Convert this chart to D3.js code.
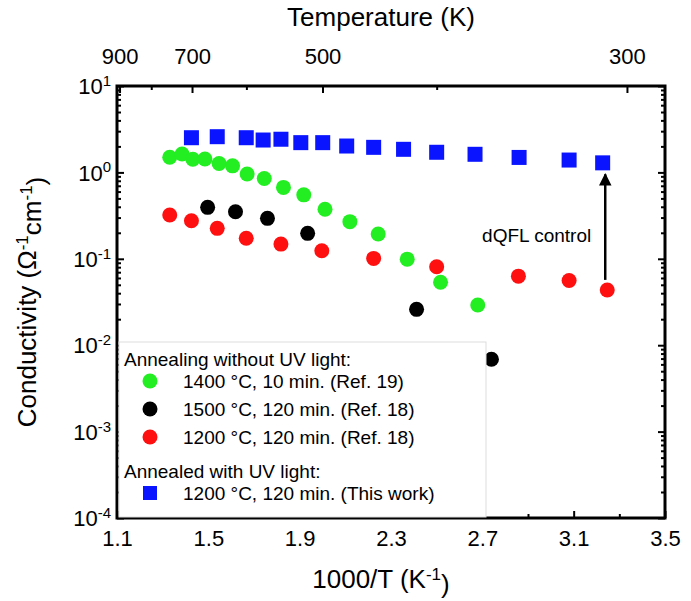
<!DOCTYPE html>
<html>
<head>
<meta charset="utf-8">
<script src="https://cdn.jsdelivr.net/npm/d3@7"></script>
<style>
  body { margin: 0; background: #fff; }
  text { font-family: Arial, "Liberation Sans", sans-serif; }
</style>
</head>
<body>
<div class="canva"></div>
<script>
// valores: x = 1000/T, y = conductividad
const greenX = [1.331, 1.385, 1.432, 1.485, 1.547, 1.606, 1.670, 1.745, 1.829, 1.918, 2.011, 2.120, 2.244, 2.371, 2.517, 2.680];
const greenY = [1.50, 1.63, 1.42, 1.43, 1.27, 1.19, 0.96, 0.85, 0.67, 0.55, 0.374, 0.269, 0.194, 0.099, 0.0535, 0.0292];
const blackX = [1.497, 1.619, 1.759, 1.935, 2.412, 2.740];
const blackY = [0.394, 0.351, 0.294, 0.197, 0.026, 0.00687];
const redX = [1.331, 1.426, 1.539, 1.666, 1.818, 1.997, 2.224, 2.500, 2.858, 3.080, 3.247];
const redY = [0.321, 0.276, 0.225, 0.173, 0.148, 0.124, 0.101, 0.081, 0.063, 0.056, 0.0436];
const blueX = [1.426, 1.539, 1.666, 1.740, 1.818, 1.905, 2.001, 2.106, 2.224, 2.355, 2.500, 2.668, 2.861, 3.080, 3.227];
const blueY = [2.52, 2.59, 2.52, 2.37, 2.42, 2.21, 2.21, 2.02, 1.95, 1.85, 1.71, 1.62, 1.49, 1.39, 1.29];
const xTicks = [1.1, 1.5, 1.9, 2.3, 2.7, 3.1, 3.5];
const tempTicks = [900, 700, 500, 300];
const tempMinor = [800, 600, 400];
const yExps = [1, 0, -1, -2, -3, -4];
const legendRows = [
  { label: "1400 °C, 10 min. (Ref. 19)", color: "#22ee22", shape: "circle" },
  { label: "1500 °C, 120 min. (Ref. 18)", color: "#000000", shape: "circle" },
  { label: "1200 °C, 120 min. (Ref. 18)", color: "#ff1010", shape: "circle" },
  { label: "1200 °C, 120 min. (This work)", color: "#0a14ff", shape: "square" }
];

const W = 691, H = 601;
const L = 117, R = 665, T = 86, B = 518;

const svg = d3.select(".canva").append("svg").attr("width", W).attr("height", H);

const x = d3.scaleLinear().domain([1.1, 3.5]).range([L, R]);
const y = d3.scaleLog().domain([1e-4, 10]).range([B, T]);

// minor log ticks
const minorY = [];
for (let e = -4; e < 1; e++) for (let m = 2; m <= 9; m++) minorY.push(m * Math.pow(10, e));
const minorX = d3.range(1.3, 3.5, 0.4);

// ejes con ticks hacia adentro
const g = svg.append("g");
g.append("g").attr("transform", `translate(0,${B})`)
  .call(d3.axisBottom(x).tickValues(xTicks).tickSizeInner(-7).tickSizeOuter(0).tickPadding(12).tickFormat(d3.format(".1f")));
g.append("g").attr("transform", `translate(0,${B})`)
  .call(d3.axisBottom(x).tickValues(minorX).tickSizeInner(-4).tickSizeOuter(0).tickFormat(""));
g.append("g").attr("transform", `translate(0,${T})`)
  .call(d3.axisTop(x).tickValues(tempTicks.map(t => 1000 / t)).tickSizeInner(-7).tickSizeOuter(0).tickPadding(22)
    .tickFormat((d, i) => tempTicks[i]));
g.append("g").attr("transform", `translate(0,${T})`)
  .call(d3.axisTop(x).tickValues(tempMinor.map(t => 1000 / t)).tickSizeInner(-4).tickSizeOuter(0).tickFormat(""));
const yl = g.append("g").attr("transform", `translate(${L},0)`)
  .call(d3.axisLeft(y).tickValues(yExps.map(e => Math.pow(10, e))).tickSizeInner(-7).tickSizeOuter(0).tickPadding(10).tickFormat(""));
yl.selectAll(".tick").each(function(d) {
  const t = d3.select(this).append("text").attr("x", -6).attr("dy", "0.35em")
    .attr("text-anchor", "end").attr("fill", "#000").attr("font-size", 22);
  t.append("tspan").text("10");
  t.append("tspan").attr("dy", "-0.55em").attr("font-size", 15).text(Math.round(Math.log10(d)));
});
g.append("g").attr("transform", `translate(${L},0)`)
  .call(d3.axisLeft(y).tickValues(minorY).tickSizeInner(-4).tickSizeOuter(0).tickFormat(""));
g.append("g").attr("transform", `translate(${R},0)`)
  .call(d3.axisRight(y).tickValues(yExps.map(e => Math.pow(10, e))).tickSizeInner(-7).tickSizeOuter(0).tickFormat(""));
g.append("g").attr("transform", `translate(${R},0)`)
  .call(d3.axisRight(y).tickValues(minorY).tickSizeInner(-4).tickSizeOuter(0).tickFormat(""));
g.selectAll(".tick text").attr("font-size", 22).attr("font-family", "Arial, 'Liberation Sans', sans-serif");
g.selectAll("path.domain").remove();
g.selectAll(".tick line").attr("stroke-width", 2);

svg.append("rect").attr("x", L).attr("y", T).attr("width", R - L).attr("height", B - T)
  .attr("fill", "none").attr("stroke", "#000").attr("stroke-width", 3);

// titulos
svg.append("text").attr("x", (L + R) / 2 - 10).attr("y", 26).attr("text-anchor", "middle")
  .attr("font-size", 26).text("Temperature (K)");
const xt = svg.append("text").attr("x", (L + R) / 2 - 10).attr("y", 588).attr("text-anchor", "middle").attr("font-size", 26);
xt.append("tspan").text("1000/T (K");
xt.append("tspan").attr("dy", "-0.5em").attr("font-size", 17).text("-1");
xt.append("tspan").attr("dy", "0.5em").text(")");
const yt = svg.append("text").attr("transform", `translate(36,${(T + B) / 2}) rotate(-90)`)
  .attr("text-anchor", "middle").attr("font-size", 26);
yt.append("tspan").text("Conductivity (Ω");
yt.append("tspan").attr("dy", "-0.5em").attr("font-size", 17).text("-1");
yt.append("tspan").attr("dy", "0.5em").text("cm");
yt.append("tspan").attr("dy", "-0.5em").attr("font-size", 17).text("-1");
yt.append("tspan").attr("dy", "0.5em").text(")");

// datos
function circles(xs, ys, color) {
  svg.append("g").selectAll("circle").data(xs).enter().append("circle")
    .attr("cx", d => x(d)).attr("cy", (d, i) => y(ys[i])).attr("r", 7.5).attr("fill", color);
}
circles(greenX, greenY, legendRows[0].color);
circles(redX, redY, legendRows[2].color);
circles(blackX, blackY, legendRows[1].color);
svg.append("g").selectAll("rect").data(blueX).enter().append("rect")
  .attr("x", d => x(d) - 7.5).attr("y", (d, i) => y(blueY[i]) - 7.5)
  .attr("width", 15).attr("height", 15).attr("fill", legendRows[3].color);

// flecha dQFL
const ax = x(redX[redX.length - 1]) - 2;
svg.append("defs").append("marker").attr("id", "ah").attr("viewBox", "0 0 10 10")
  .attr("refX", 9).attr("refY", 5).attr("markerWidth", 5).attr("markerHeight", 6).attr("orient", "auto")
  .append("path").attr("d", "M0,0L10,5L0,10z").attr("fill", "#000");
svg.append("line").attr("x1", ax).attr("x2", ax).attr("y1", y(0.057)).attr("y2", y(0.95))
  .attr("stroke", "#000").attr("stroke-width", 2.5).attr("marker-end", "url(#ah)");
svg.append("text").attr("x", ax - 14).attr("y", y(0.155)).attr("text-anchor", "end")
  .attr("font-size", 19).text("dQFL control");

// leyenda
const lg = svg.append("g");
lg.append("rect").attr("x", 119).attr("y", 342).attr("width", 367).attr("height", B - 343)
  .attr("fill", "#fff").attr("stroke", "#ddd").attr("stroke-width", 1);
lg.append("text").attr("x", 124).attr("y", 366).attr("font-size", 19).text("Annealing without UV light:");
lg.append("text").attr("x", 124).attr("y", 478).attr("font-size", 19).text("Annealed with UV light:");
const rowY = [388, 416, 444, 500];
legendRows.forEach((r, i) => {
  if (r.shape === "circle") lg.append("circle").attr("cx", 150).attr("cy", rowY[i] - 7).attr("r", 7.5).attr("fill", r.color);
  else lg.append("rect").attr("x", 143).attr("y", rowY[i] - 14).attr("width", 14).attr("height", 14).attr("fill", r.color);
  lg.append("text").attr("x", 183).attr("y", rowY[i]).attr("font-size", 19).text(r.label);
});
</script>
</body>
</html>
